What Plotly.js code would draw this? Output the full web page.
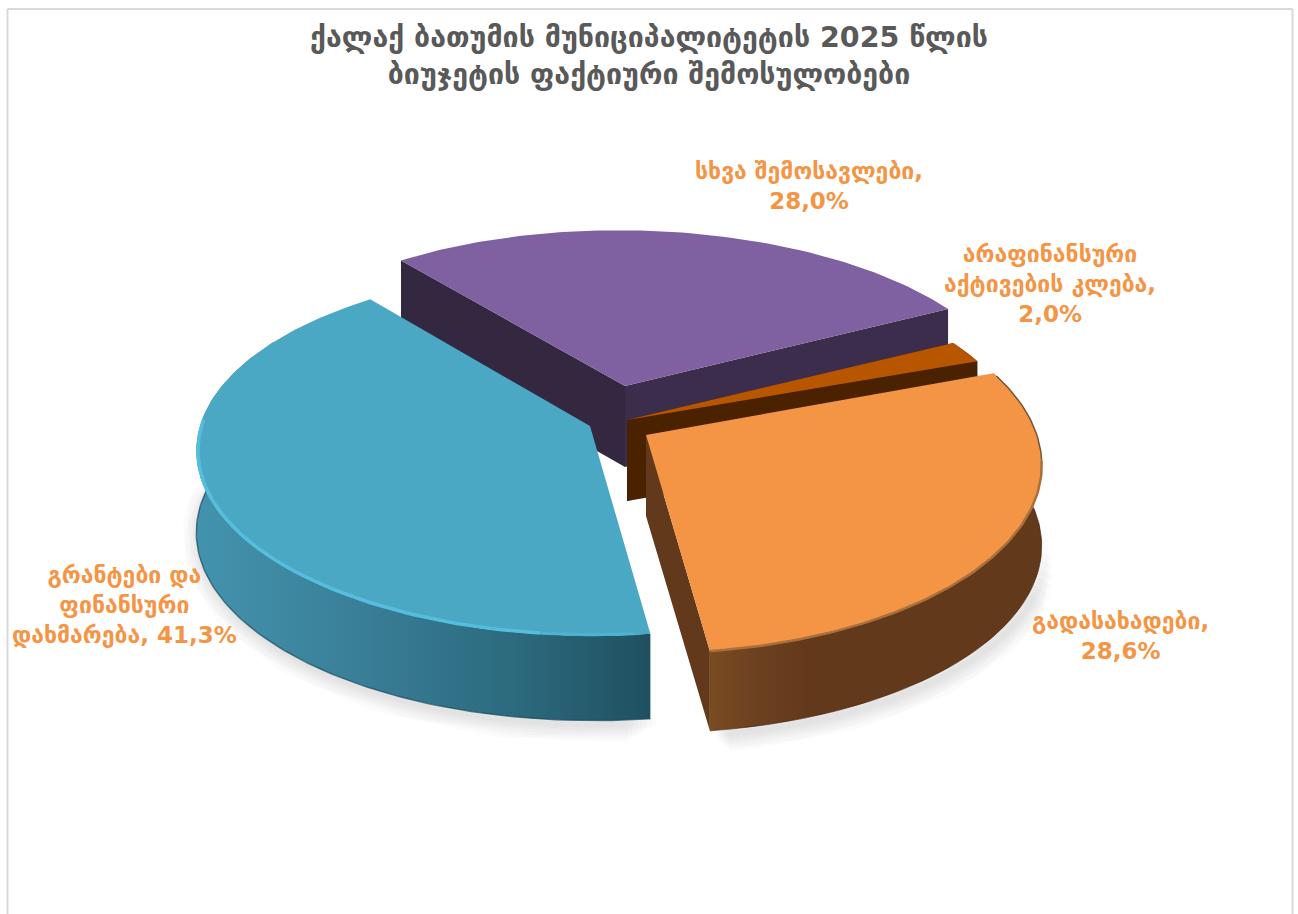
<!DOCTYPE html>
<html><head><meta charset="utf-8">
<script src="https://cdn.plot.ly/plotly-3.0.1.min.js"></script>
<style>html,body{margin:0;padding:0;background:#fff}#c{width:1298px;height:914px}</style></head>
<body><div id="c"></div>
<script>
const categories=["გადასახადები","გრანტები და ფინანსური დახმარება","სხვა შემოსავლები","არაფინანსური აქტივების კლება"];
const values=[28.6,41.3,28.0,2.0];
const labelLines=["გადასახადები,<br>28,6%","გრანტები და<br>ფინანსური<br>დახმარება, 41,3%","სხვა შემოსავლები,<br>28,0%","არაფინანსური<br>აქტივების კლება,<br>2,0%"];
const titleText="ქალაქ ბათუმის მუნიციპალიტეტის 2025 წლის<br>ბიუჯეტის ფაქტიური შემოსულობები";

const firstAngle=69.7, R=392, Rt=178, persp=0.143, H=81;
const centres=[[646,435],[590,426],[625,386],[627,420]];
const vScale=[1.05,1.01,1,1];
const hScale=[0.997,0.995,1,1];
const shear=[0.03,0.015,0.04,0];
const wallExp=[-0.1,0.3,0.3,0.3];
const labelPos=[[1120,636],[124,605],[809,186],[1050,284]];
const drawOrder=[2,3,0,1];
const topCol=["#F49546","#4BA8C5","#7F60A0","#B85600"];
const total=values.reduce((a,b)=>a+b,0);
let a0=firstAngle;
const spans=values.map(v=>{const s=[a0,a0+v/total*360];a0=s[1];return s;});

function pt(i,deg,r,down){
  const c=centres[i],t=deg*Math.PI/180, X=r*Math.sin(t), Y=r*Math.cos(t), s=1/(1+persp*Y);
  const dy=-Rt*Y*s*vScale[i];
  return [c[0]+R*hScale[i]*X*s+shear[i]*dy, c[1]+dy+(down?H*Math.pow(s,wallExp[i]):0)];
}
function arc(i,a,b,r,down){
  const n=Math.max(2,Math.ceil(Math.abs(b-a))),o=[];
  for(let k=0;k<=n;k++)o.push(pt(i,a+(b-a)*k/n,r,down));
  return o;
}
function poly(points,opt){
  return Object.assign({type:"scatter",mode:"lines",x:points.map(p=>p[0]),y:points.map(p=>p[1]),
    hoverinfo:"skip",showlegend:false,line:{width:0}},opt);
}
function filled(points,col,name,grad){
  const o={fill:"toself",fillcolor:col,name:name};
  if(grad)o.fillgradient={type:"horizontal",colorscale:grad};
  return poly(points,o);
}
const traces=[];
function shadow(i,a,b,taperA,taperB){
  [36,31,26,21,16,11,6].forEach(w=>{
    const pts=arc(i,a+w*taperA,b-w*taperB,1,true).map(p=>[p[0]+4,p[1]+4]);
    traces.push(poly(pts,{line:{width:w,color:"rgba(0,0,0,0.017)"}}));
  });
}
shadow(1,spans[1][0]-1,Math.min(spans[1][1],285),0.12,0.3);
shadow(0,spans[0][0]+25,spans[0][1],0.5,0.05);

drawOrder.forEach(i=>{
  const a=spans[i][0],b=spans[i][1],name=categories[i];
  const apexT=pt(i,0,0,false),apexB=pt(i,0,0,true);
  const edge=(deg,col,g)=>{
    const o=pt(i,deg,1,false),u=pt(i,deg,1,true);
    traces.push(filled([apexT,o,u,apexB,apexT],col,name,g));
  };
  const outer=(col,g,from,to)=>{
    const top=arc(i,from,to,1,false),bot=arc(i,from,to,1,true).reverse();
    traces.push(filled(top.concat(bot,[top[0]]),col,name,g));
  };
  if(i===2){edge(a,"#332840");edge(b,"#3C2D4C");}
  if(i===3){edge(a,"#4A2200");edge(b,"#4A2200");outer("#4A2200",null,a,b);}
  if(i===0){
    edge(b,"#63391B");
    outer("#63391B",[[0,"#7A4B22"],[0.14,"#6C4120"],[0.3,"#63391B"],[1,"#63391B"]],a,b);
    traces.push(poly(arc(i,a+18,b,1,true),{line:{width:1,color:"rgba(60,30,10,0.6)"}}));
  }
  if(i===1){
    outer("#3A8AA5",[[0,"#4393AE"],[0.35,"#3A7F98"],[0.7,"#2C6A7E"],[1,"#1F5060"]],a,Math.min(b,300));
    traces.push(poly(arc(i,a,276,1,true),{line:{width:1.5,color:"rgba(25,75,95,0.7)"}}));
  }
  const top=arc(i,a,b,1,false);
  traces.push(filled([apexT].concat(top,[apexT]),topCol[i],name));
  if(i===1){
    traces.push(poly(arc(i,a+2,a+14,0.996,false),{line:{width:3,color:"#4FB2D0"}}));
    traces.push(poly(arc(i,a+14,272,0.996,false),{line:{width:3.5,color:"#55BEDD"}}));
  }
  if(i===0){
    traces.push(poly(arc(i,a+1,a+28,1,false),{line:{width:1.5,color:"#7A5535"}}));
    traces.push(poly(arc(i,a+28,b,1,false),{line:{width:2.5,color:"#A8703F"}}));
  }
});

const annotations=labelLines.map((t,i)=>({
  text:t,x:labelPos[i][0],y:labelPos[i][1],xref:"x",yref:"y",showarrow:false,align:"center",
  xanchor:"center",yanchor:"middle",
  font:{family:"DejaVu Sans",size:23,color:"#F49546",weight:700}
}));
const frameCol="#D9D9D9";
const layout={
  width:1298,height:914,margin:{l:0,r:0,t:0,b:0},paper_bgcolor:"#fff",plot_bgcolor:"#fff",
  title:{text:titleText,x:0.5,xanchor:"center",y:0.9491,yanchor:"top",
    font:{family:"DejaVu Sans",size:28.5,color:"#595959",weight:700}},
  xaxis:{range:[0,1298],visible:false,fixedrange:true},
  yaxis:{range:[914,0],visible:false,fixedrange:true},
  annotations:annotations,
  shapes:[
    {type:"line",xref:"x",yref:"y",x0:7.5,x1:7.5,y0:9,y1:914,line:{color:frameCol,width:2},layer:"below"},
    {type:"line",xref:"x",yref:"y",x0:1292.5,x1:1292.5,y0:9,y1:914,line:{color:frameCol,width:2},layer:"below"},
    {type:"line",xref:"x",yref:"y",x0:7.5,x1:1292.5,y0:9,y1:9,line:{color:frameCol,width:2},layer:"below"}
  ]
};
Plotly.newPlot("c",traces,layout,{displayModeBar:false,staticPlot:true});
</script></body></html>
